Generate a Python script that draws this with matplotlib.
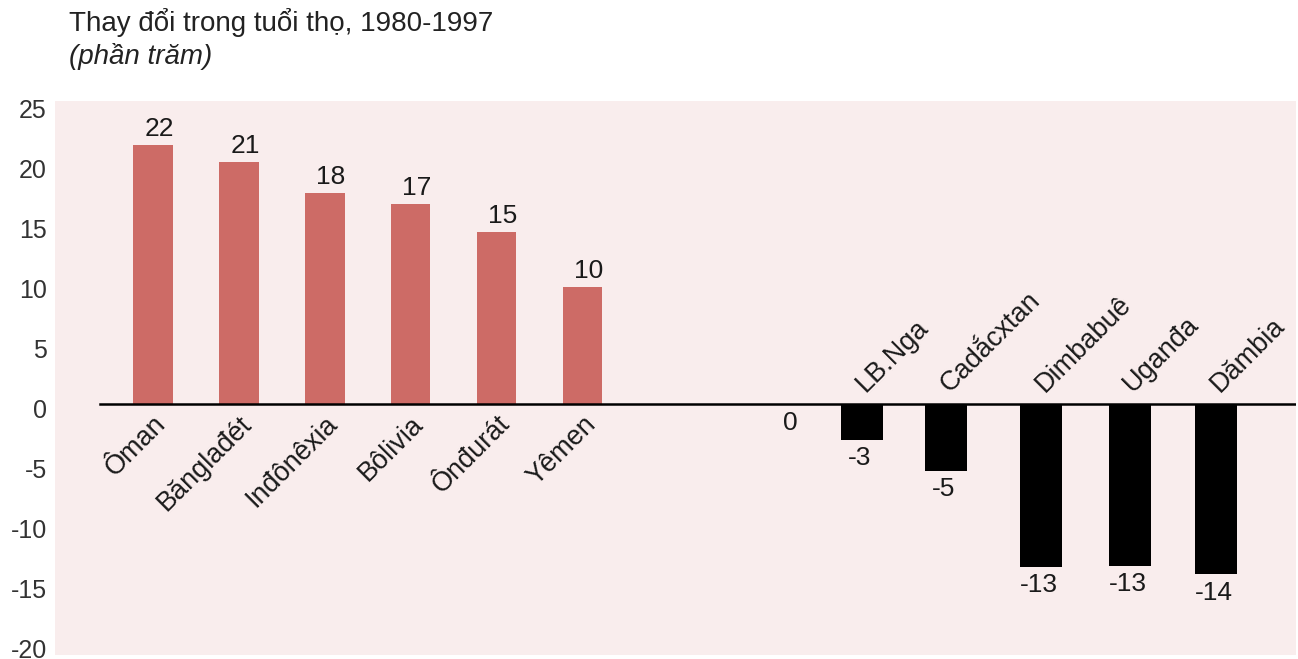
import matplotlib
matplotlib.use("Agg")
import matplotlib.pyplot as plt
from matplotlib.transforms import ScaledTranslation

plt.rcParams['font.family'] = ['Liberation Sans', 'DejaVu Sans']

# Data
pos_names = ["Ôman", "Bănglađét", "Inđônêxia", "Bôlivia", "Ônđurát", "Yêmen"]
pos_values = [21.6, 20.2, 17.6, 16.7, 14.3, 9.75]
pos_labels = ["22", "21", "18", "17", "15", "10"]

zero_label = "0"

neg_names = ["LB.Nga", "Cadắcxtan", "Dimbabuê", "Uganđa", "Dămbia"]
neg_values = [-3.0, -5.6, -13.6, -13.5, -14.2]
neg_labels = ["-3", "-5", "-13", "-13", "-14"]

yticks = [25, 20, 15, 10, 5, 0, -5, -10, -15, -20]

# Layout (slot positions)
pos_x = [0, 1, 2, 3, 4, 5]
zero_x = 7.42
neg_x = [8.25, 9.23, 10.34, 11.37, 12.38]

W, H = 1298, 659
fig = plt.figure(figsize=(W / 100, H / 100), dpi=100)
fig.patch.set_facecolor("white")
ax = fig.add_axes([55 / W, 1 - 655 / H, 1241 / W, 554 / H])
ax.set_facecolor("#f9eded")

red = "#cd6b66"
ax.bar(pos_x, pos_values, width=0.46, color=red, zorder=2)
ax.bar(neg_x, neg_values, width=0.49, color="black", zorder=2)
ax.axhline(0, xmin=45 / 1241, xmax=1, color="black", linewidth=1.8, zorder=3)

# axis ranges: zero at y=404px, 12 px per unit
ax.set_ylim(-251 / 12, 303 / 12)
ax.set_xlim((55 - 153) / 85.9, (1296 - 153) / 85.9)

for s in ax.spines.values():
    s.set_visible(False)
ax.set_xticks([])
ax.set_yticks(yticks)
ax.set_yticklabels([str(t) for t in yticks], fontsize=18, color="#333333")
ax.tick_params(axis="y", length=0, pad=6)
off = ScaledTranslation(0, -4 / 100, fig.dpi_scale_trans)
for lab in ax.get_yticklabels():
    lab.set_transform(lab.get_transform() + off)

fs = 19
rfs = 19.5
tc = "#1a1a1a"
for x, v, lab, name in zip(pos_x, pos_values, pos_labels, pos_names):
    ax.annotate(lab, (x, v), xytext=(4.3, 6.5), textcoords="offset points",
                ha="center", va="baseline", fontsize=fs, color=tc)
    ax.annotate(name, (x, 0), xytext=(0, -5), textcoords="offset points",
                ha="right", va="top", rotation=45, rotation_mode="anchor",
                fontsize=rfs, color=tc)

ax.annotate(zero_label, (zero_x, 0), xytext=(0, -5), textcoords="offset points",
            ha="center", va="top", fontsize=fs, color=tc)

for x, v, lab, name in zip(neg_x, neg_values, neg_labels, neg_names):
    ax.annotate(lab, (x, v), xytext=(-1.5, -4.5), textcoords="offset points",
                ha="center", va="top", fontsize=fs, color=tc)
    ax.annotate(name, (x, 0), xytext=(5.5, 5), textcoords="offset points",
                ha="left", va="bottom", rotation=45, rotation_mode="anchor",
                fontsize=rfs, color=tc)

fig.text(69 / W, 1 - 31 / H, "Thay đổi trong tuổi thọ, 1980-1997",
         fontsize=20, ha="left", va="baseline", color="#222222")
fig.text(69 / W, 1 - 64 / H, "(phần trăm)", fontsize=20, style="italic",
         ha="left", va="baseline", color="#222222")

fig.savefig("out.png", dpi=100)
